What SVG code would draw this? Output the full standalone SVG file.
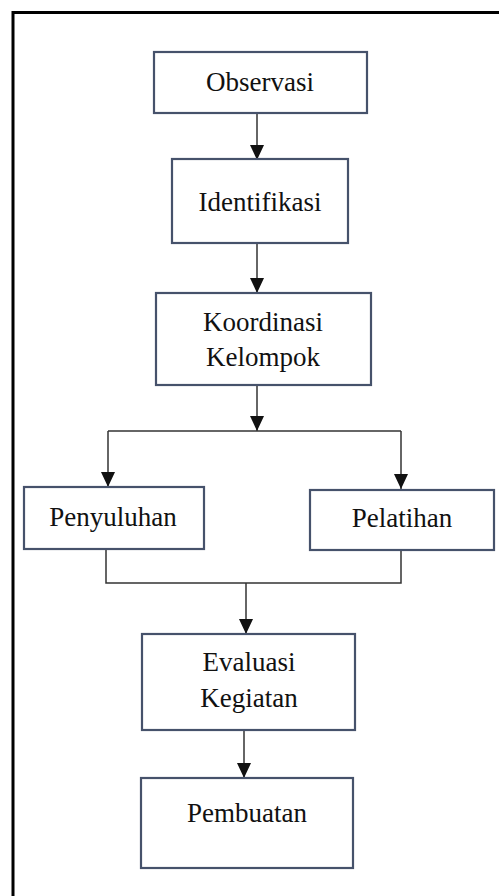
<svg xmlns="http://www.w3.org/2000/svg" width="499" height="896" viewBox="0 0 499 896">
<style>
.box{fill:#ffffff;stroke:#46526b;stroke-width:2.2}
.lbl{font-family:"Liberation Serif","Times New Roman",serif;font-size:27px;fill:#111;text-anchor:middle}
.ln{fill:none;stroke:#333;stroke-width:1.5}
</style>
<defs>
<marker id="ah" markerWidth="16" markerHeight="16" refX="15" refY="7" orient="auto" markerUnits="userSpaceOnUse">
<path d="M0,0 L15,7 L0,14 Z" fill="#111"/>
</marker>
</defs>
<rect x="0" y="0" width="499" height="896" fill="#ffffff"/>
<path d="M13,900 L13,12.5 L502,12.5" fill="none" stroke="#000" stroke-width="3"/>
<g id="connectors">
<line class="ln" x1="257" y1="113" x2="257" y2="160" marker-end="url(#ah)"/>
<line class="ln" x1="257" y1="243" x2="257" y2="293" marker-end="url(#ah)"/>
<line class="ln" x1="257" y1="385" x2="257" y2="431" marker-end="url(#ah)"/>
<line class="ln" x1="108" y1="431" x2="401" y2="431"/>
<line class="ln" x1="108" y1="431" x2="108" y2="487" marker-end="url(#ah)"/>
<line class="ln" x1="401" y1="431" x2="401" y2="489" marker-end="url(#ah)"/>
<path class="ln" d="M106,549 L106,583 L401,583 L401,551"/>
<line class="ln" x1="246" y1="583" x2="246" y2="634" marker-end="url(#ah)"/>
<line class="ln" x1="244" y1="730" x2="244" y2="778" marker-end="url(#ah)"/>
</g>
<g id="observasi">
<rect class="box" x="154" y="52" width="213" height="61"/>
<text class="lbl" x="260" y="91">Observasi</text>
</g>
<g id="identifikasi">
<rect class="box" x="172" y="159" width="176" height="84"/>
<text class="lbl" x="260" y="211">Identifikasi</text>
</g>
<g id="koordinasi">
<rect class="box" x="156" y="293" width="215" height="92"/>
<text class="lbl" x="263" y="331">Koordinasi</text>
<text class="lbl" x="263" y="366">Kelompok</text>
</g>
<g id="penyuluhan">
<rect class="box" x="24" y="487" width="180" height="62"/>
<text class="lbl" x="113" y="526">Penyuluhan</text>
</g>
<g id="pelatihan">
<rect class="box" x="310" y="490" width="184" height="60"/>
<text class="lbl" x="402" y="527">Pelatihan</text>
</g>
<g id="evaluasi">
<rect class="box" x="142" y="634" width="213" height="96"/>
<text class="lbl" x="249" y="671">Evaluasi</text>
<text class="lbl" x="249" y="707">Kegiatan</text>
</g>
<g id="pembuatan">
<rect class="box" x="141" y="778" width="212" height="90"/>
<text class="lbl" x="247" y="822">Pembuatan</text>
</g>
</svg>
